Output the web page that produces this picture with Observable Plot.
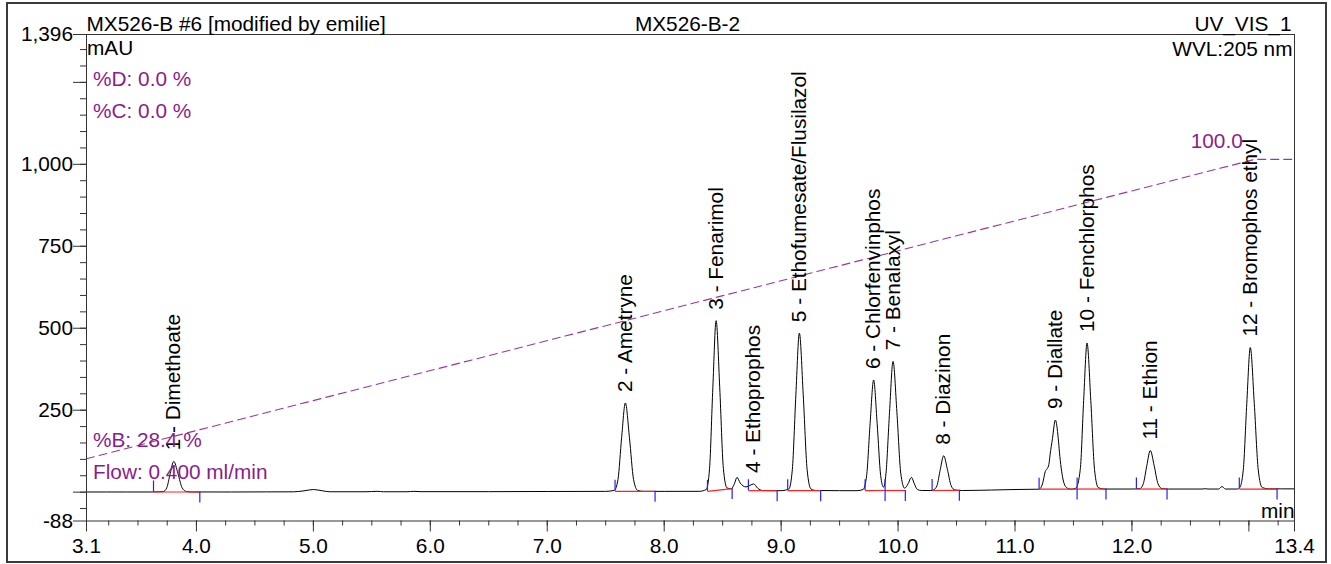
<!DOCTYPE html>
<html><head><meta charset="utf-8">
<script src="https://cdn.jsdelivr.net/npm/d3@7"></script>
<script src="https://cdn.jsdelivr.net/npm/@observablehq/plot@0.6"></script>
<style>
html,body{margin:0;padding:0;background:#fff;}
#wrap{position:relative;width:1331px;height:564px;overflow:hidden;background:#fff;}
#chart{position:absolute;left:0;top:0;}
#border{position:absolute;left:6px;top:2px;width:1321px;height:561px;box-sizing:border-box;border:2px solid #3a3a3a;pointer-events:none;}
</style></head><body>
<div id="wrap"><div id="chart"></div><div id="border"></div></div>
<script>
// ---- Data ----
const traceTime = [3.06,3.40,3.62,3.716,3.746,3.776,3.806,3.842,3.878,3.914,3.96,4.30,4.60,4.83,4.92,5.00,5.08,5.14,5.45,5.545,5.60,5.80,5.86,5.92,6.50,7.00,7.50,
  7.573,7.605,7.636,7.668,7.703,7.738,7.773,7.82,8.00,8.30,
  8.36,8.388,8.416,8.444,8.475,8.506,8.537,8.572,8.600,8.623,8.650,8.700,8.735,8.765,8.800,8.84,8.90,9.00,
  9.066,9.096,9.126,9.156,9.189,9.222,9.255,9.30,9.50,9.65,
  9.701,9.731,9.761,9.791,9.821,9.851,9.876,9.897,9.927,9.957,9.990,10.023,10.056,10.085,10.114,10.14,10.165,10.20,10.28,
  10.303,10.332,10.361,10.390,10.422,10.454,10.486,10.55,10.80,11.00,
  11.205,11.235,11.259,11.276,11.29,11.30,11.32,11.345,11.37,11.38,11.41,11.44,11.48,11.52,
  11.558,11.587,11.616,11.648,11.680,11.712,11.76,12.00,
  12.067,12.097,12.127,12.157,12.190,12.223,12.256,12.31,12.60,12.627,12.65,12.74,12.77,12.80,12.90,
  12.922,12.952,12.982,13.012,13.046,13.080,13.114,13.17,13.39];
const traceMAU = [0.5,0.5,0.5,1.6,13,57,94,57,13,2,0.6,0.5,0.8,1,4,8,4,1.2,1.2,2.5,1.2,1.2,2.5,1.5,1.5,2,2.4,
  5.4,38.8,166,272,166,38.8,5.4,2.4,2.4,2.5,
  8.2,72.8,318.5,523,318.5,72.8,13,10,25,45,28,16,21,25,12,5,4.5,4.5,
  9.8,69.5,297,485,297,69.5,9.8,5,4.5,4.5,
  8.2,50,210,342,210,51,15,58,244,399,244,58,12,25,45,25,8,5,5,
  6.8,19.3,69.3,111,69.3,19.3,6.8,5,6.5,8,
  9,25,63,72,85,114,163,220,163,122,40,14,9,12,
  69,280,455,280,69,14,9.5,9.5,
  10.8,25.4,80.8,127,80.8,25.4,10.8,9.5,9.5,10.5,9.5,9.5,17,9.5,9.5,
  14.2,67.8,271,441,271,67.8,14,10,10];

const peakNames = ["1 - Dimethoate","2 - Ametryne","3 - Fenarimol","4 - Ethoprophos","5 - Ethofumesate/Flusilazol",
  "6 - Chlorfenvinphos","7 - Benalaxyl","8 - Diazinon","9 - Diallate","10 - Fenchlorphos","11 - Ethion","12 - Bromophos ethyl"];
const peakTimes   = [3.806,7.668,8.444,8.765,9.156,9.791,9.957,10.39,11.345,11.616,12.157,13.012];
const peakHeights = [94,272,523,25,485,342,399,111,220,455,127,441];
const peakStart     = [3.633,7.580,8.370,8.720,9.056,9.718,9.889,10.291,11.206,11.531,12.038,12.918];
const peakStartBase = [0.5,2.4,2.4,4.5,4.5,4.5,5,5,9,9.5,9.5,9.5];
const peakEnd       = [4.029,7.922,8.581,8.966,9.338,9.889,10.062,10.524,11.531,11.778,12.300,13.241];
const peakEndBase   = [0.5,2.4,11,4.5,4.5,5,5,5.5,9.5,9.5,9.5,9.5];

const gradientTime = [3.06, 13.05, 13.39];
const gradientB    = [28.4, 100, 100];

const xTickValues = [3.06,4,5,6,7,8,9,10,11,12,13,13.39];
const xTickLabels = ["3.1","4.0","5.0","6.0","7.0","8.0","9.0","10.0","11.0","12.0","","13.4"];
const yTickValues = [-88,0,250,500,750,1000,1250,1396];
const yTickLabels = ["-88","","250","500","750","1,000","","1,396"];

const headerLeft = "MX526-B #6 [modified by emilie]";
const headerCenter = "MX526-B-2";
const headerRight = "UV_VIS_1";
const yUnit = "mAU";
const wavelength = "WVL:205 nm";
const xUnit = "min";
const gradTopLines = ["%D: 0.0 %", "%C: 0.0 %"];
const gradBottomLines = ["%B: 28.4 %", "Flow: 0.400 ml/min"];

// ---- Build ----
const W = 1331, H = 564, mL = 86, mR = 37, mT = 34, mB = 43.5;
const yDomain = [-88, 1396], xDomain = [3.06, 13.39];
const pxPerUnit = (H - mT - mB) / (yDomain[1] - yDomain[0]);
const delimLen = 11 / pxPerUnit;
const purple = "#8c1c8c";
const bToMAU = d3.scaleLinear([0, 100], [-260, 1015]);

const trace = traceTime.map((t, i) => ({t, v: traceMAU[i]}));
const peaks = peakNames.map((name, i) => ({name, t: peakTimes[i], v: peakHeights[i],
  t0: peakStart[i], b0: peakStartBase[i], t1: peakEnd[i], b1: peakEndBase[i]}));
const grad = gradientTime.map((t, i) => ({t, b: gradientB[i]}));

const xFmt = new Map(xTickValues.map((v, i) => [v, xTickLabels[i]]));
const yFmt = new Map(yTickValues.map((v, i) => [v, yTickLabels[i]]));
const xMinor = d3.range(13, 54).map(k => k / 4).filter(v => v > xDomain[0] && v < xDomain[1]);
const yMinor = d3.range(-1, 28).map(k => k * 50);

const txt = (lines, idx, anchor, dx, dy, fill) =>
  Plot.text(lines, {text: d => d, filter: (d, i) => i === idx, frameAnchor: anchor,
    textAnchor: "start", lineAnchor: "bottom", dx, dy, fill});

const chart = Plot.plot({
  width: W, height: H,
  marginLeft: mL, marginRight: mR, marginTop: mT, marginBottom: mB,
  x: {domain: xDomain, label: null},
  y: {domain: yDomain, label: null},
  style: {fontFamily: "'Liberation Sans', Arial, sans-serif", fontSize: "20.8px", color: "#222", background: "transparent", overflow: "visible"},
  marks: [
    Plot.axisX({ticks: xMinor, tickSize: 5, tickFormat: () => "", label: null, stroke: "#333"}),
    Plot.axisX({ticks: xTickValues, tickSize: 11, tickPadding: 6.5, tickFormat: d => xFmt.get(d) ?? "", label: null, stroke: "#333", fill: "#000"}),
    Plot.axisY({ticks: yMinor, tickSize: 6, tickFormat: () => "", label: null, stroke: "#333"}),
    Plot.axisY({ticks: yTickValues, tickSize: 13, tickPadding: 0.5, tickFormat: d => yFmt.get(d) ?? "", label: null, stroke: "#333", fill: "#000"}),
    Plot.line(grad, {x: "t", y: d => bToMAU(d.b), stroke: "#993899", strokeWidth: 1.1, strokeDasharray: "8,5"}),
    Plot.line(trace, {x: "t", y: "v", stroke: "#000", strokeWidth: 1, curve: "monotone-x"}),
    Plot.link(peaks, {x1: "t0", y1: "b0", x2: "t1", y2: "b1", stroke: "#ff2020", strokeWidth: 1.2}),
    Plot.ruleX(peaks, {x: "t0", y1: "b0", y2: d => d.b0 + delimLen, stroke: "#2020ff", strokeWidth: 1.2}),
    Plot.ruleX(peaks, {x: "t1", y1: "b1", y2: d => d.b1 - delimLen, stroke: "#2020ff", strokeWidth: 1.2}),
    Plot.frame({stroke: "#333"}),
    Plot.text(peaks, {x: "t", y: "v", text: "name", rotate: -90, textAnchor: "start", lineAnchor: "middle", dy: -11, fill: "#000"}),
    Plot.text([grad[1]], {x: "t", y: d => bToMAU(d.b), text: d => d.b.toFixed(1), textAnchor: "end", lineAnchor: "bottom", dx: -12, dy: -11, fill: purple}),
    Plot.text([headerLeft], {text: d => d, frameAnchor: "top-left", textAnchor: "start", lineAnchor: "bottom", dy: -4, fill: "#000"}),
    Plot.text([headerCenter], {text: d => d, frameAnchor: "top", textAnchor: "middle", lineAnchor: "bottom", dx: -3, dy: -4, fill: "#000"}),
    Plot.text([headerRight], {text: d => d, frameAnchor: "top-right", textAnchor: "end", lineAnchor: "bottom", dx: -3, dy: -4, fill: "#000"}),
    Plot.text([yUnit], {text: d => d, frameAnchor: "top-left", textAnchor: "start", lineAnchor: "bottom", dx: 0.5, dy: 20.5, fill: "#000"}),
    Plot.text([wavelength], {text: d => d, frameAnchor: "top-right", textAnchor: "end", lineAnchor: "bottom", dx: -2, dy: 21, fill: "#000"}),
    Plot.text([xUnit], {text: d => d, frameAnchor: "bottom-right", textAnchor: "end", lineAnchor: "bottom", dx: 0, dy: -3.5, fill: "#000"}),
    txt(gradTopLines, 0, "top-left", 6.5, 51, purple),
    txt(gradTopLines, 1, "top-left", 6.5, 83, purple),
    txt(gradBottomLines, 0, "bottom-left", 6.5, -74.5, purple),
    txt(gradBottomLines, 1, "bottom-left", 6.5, -42.5, purple)
  ]
});
document.getElementById("chart").append(chart);
</script></body></html>
